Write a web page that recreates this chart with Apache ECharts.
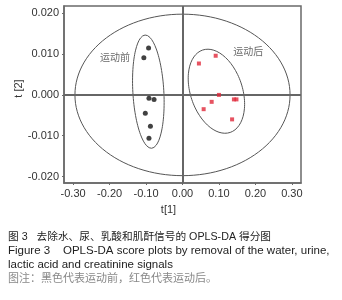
<!DOCTYPE html>
<html><head><meta charset="utf-8">
<script src="https://cdn.jsdelivr.net/npm/echarts@6/dist/echarts.min.js"></script>
<style>html,body{margin:0;padding:0;background:#fff}#c{width:342px;height:300px}</style>
</head><body><div id="c"></div>
<script>
// ---- data ----
const xTicks = [-0.3, -0.2, -0.1, 0, 0.1, 0.2, 0.3];
const yTicks = [-0.02, -0.01, 0, 0.01, 0.02];
const beforeX = [-0.093, -0.106, -0.092, -0.078, -0.102, -0.088, -0.092];
const beforeY = [0.0115, 0.0091, -0.0008, -0.0011, -0.0045, -0.0077, -0.0106];
const afterX = [0.045, 0.091, 0.100, 0.080, 0.058, 0.141, 0.148, 0.136];
const afterY = [0.0077, 0.0096, 0.0000, -0.0017, -0.0035, -0.0011, -0.0011, -0.0060];
// ellipses: [centerX, centerY, semiAxis1X, semiAxis1Y, semiAxis2X, semiAxis2Y]
const hotellingEllipse = [0, 0, 0.295, 0, 0, 0.0198];
const beforeEllipse = [-0.0937, 0.0008, 0.0089, -0.01388, 0.0424, 0.00022];
const afterEllipse = [0.093, 0.0009, 0.0378, -0.0101, 0.0675, 0.00204];
const groupLabels = ['运动前', '运动后'];
const groupLabelX = [-0.185, 0.180];
const groupLabelY = [0.0092, 0.0107];

function ellipsePts(e) {
  const pts = [];
  for (let i = 0; i <= 120; i++) {
    const t = i / 120 * 2 * Math.PI;
    pts.push([e[0] + e[2] * Math.cos(t) + e[4] * Math.sin(t),
              e[1] + e[3] * Math.cos(t) + e[5] * Math.sin(t)]);
  }
  return pts;
}
const zip = (a, b) => a.map((v, i) => [v, b[i]]);
const FONT = 'Liberation Sans, Arial, Noto Sans CJK SC, sans-serif';
const CJK = 'Noto Sans CJK SC, sans-serif';

const chart = echarts.init(document.getElementById('c'), null, {renderer: 'canvas'});
const ellStyle = {color: '#555', width: 1};
chart.setOption({
  animation: false,
  grid: {left: 64, top: 6, width: 237, height: 177, outerBoundsMode: 'none', containLabel: false,
         show: true, borderColor: '#6a6a6a', borderWidth: 1.5, backgroundColor: 'transparent'},
  xAxis: {
    type: 'value', min: -0.325, max: 0.325,
    name: 't[1]', nameLocation: 'middle', nameGap: 21, nameMoveOverlap: false,
    nameTextStyle: {fontFamily: FONT, fontSize: 11, color: '#333', padding: [0, 28, 0, 0]},
    axisLine: {onZero: false, lineStyle: {color: '#6a6a6a', width: 1.5}},
    axisTick: {show: true, length: 2, inside: false, customValues: xTicks, lineStyle: {color: '#6a6a6a'}},
    axisLabel: {customValues: xTicks, formatter: v => v.toFixed(2), fontFamily: FONT, fontSize: 11, color: '#333', margin: 5},
    splitLine: {show: false}
  },
  yAxis: {
    type: 'value', min: -0.0216, max: 0.0218,
    name: 't [2]', nameLocation: 'middle', nameGap: 40, nameRotate: 90, nameMoveOverlap: false,
    nameTextStyle: {fontFamily: FONT, fontSize: 11, color: '#333', padding: [0, 0, 0, 12]},
    axisLine: {onZero: false, lineStyle: {color: '#6a6a6a', width: 1.5}},
    axisTick: {show: true, length: 2, customValues: yTicks, lineStyle: {color: '#6a6a6a'}},
    axisLabel: {customValues: yTicks, formatter: v => v.toFixed(3), fontFamily: FONT, fontSize: 11, color: '#333', margin: 5},
    splitLine: {show: false}
  },
  series: [
    {type: 'line', data: ellipsePts(hotellingEllipse), showSymbol: false, lineStyle: ellStyle, silent: true,
     markLine: {silent: true, symbol: 'none', label: {show: false},
       lineStyle: {color: '#666', width: 2, type: 'solid'},
       data: [{xAxis: 0}, {yAxis: 0}]}},
    {type: 'line', data: ellipsePts(beforeEllipse), showSymbol: false, lineStyle: ellStyle, silent: true},
    {type: 'line', data: ellipsePts(afterEllipse), showSymbol: false, lineStyle: ellStyle, silent: true},
    {type: 'scatter', data: zip(beforeX, beforeY), symbol: 'circle', symbolSize: 5, itemStyle: {color: '#111'}, z: 5},
    {type: 'scatter', data: zip(afterX, afterY), symbol: 'rect', symbolSize: 4, itemStyle: {color: '#e0283a'}, z: 5},
    {type: 'scatter', data: zip(groupLabelX, groupLabelY).map((p, i) => ({value: p, name: groupLabels[i]})),
     symbolSize: 0, label: {show: true, position: 'inside', formatter: p => p.name, fontFamily: CJK, fontSize: 10, color: '#444'}}
  ],
  graphic: [
    {type: 'text', left: 8, top: 232, style: {text: '图 3   去除水、尿、乳酸和肌酐信号的 OPLS-DA 得分图', font: '10.7px ' + FONT, fill: '#222'}},
    {type: 'text', left: 8, top: 245, style: {text: 'Figure 3    OPLS-DA score plots by removal of the water, urine,', font: '11.5px ' + FONT, fill: '#222'}},
    {type: 'text', left: 8, top: 259, style: {text: 'lactic acid and creatinine signals', font: '11.5px ' + FONT, fill: '#222'}},
    {type: 'text', left: 8, top: 273, style: {text: '图注：黑色代表运动前，红色代表运动后。', font: '11px ' + FONT, fill: '#888'}}
  ]
});
</script></body></html>
